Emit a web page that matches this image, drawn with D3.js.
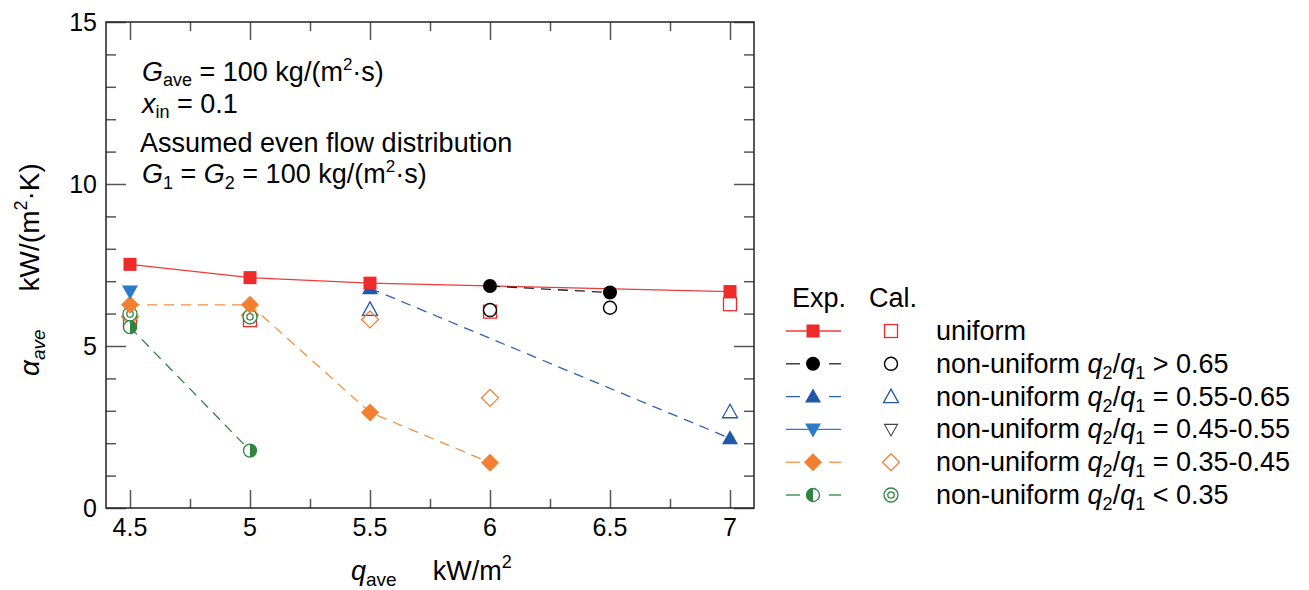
<!DOCTYPE html>
<html><head><meta charset="utf-8">
<script src="https://cdn.jsdelivr.net/npm/d3@7"></script>
<style>
body{margin:0;background:#fff;}
svg text{font-family:"Liberation Sans",Arial,sans-serif;fill:#000;}
</style></head>
<body><svg id="c" width="1309" height="590"></svg>
<script>
// ---- data ----
const qTicks = [4.5, 5, 5.5, 6, 6.5, 7];
const qMinor = [4.75, 5.25, 5.75, 6.25, 6.75];
const aTicks = [0, 5, 10, 15];
const aMinor = [1, 2, 3, 4, 6, 7, 8, 9, 11, 12, 13, 14];

const uniformExp = [[4.5, 7.52], [5, 7.11], [5.5, 6.94], [7, 6.68]];
const uniformCal = [[4.5, 5.75], [5, 5.8], [6, 6.06], [7, 6.29]];
const nu65Exp = [[6, 6.85], [6.5, 6.65]];
const nu65Cal = [[6, 6.11], [6.5, 6.18]];
const nu55Exp = [[5.5, 6.78], [7, 2.15]];
const nu55Cal = [[5.5, 6.13], [7, 2.97]];
const nu45Exp = [[4.5, 6.68]];
const nu45Cal = [];
const nu35Exp = [[4.5, 6.27], [5, 6.27], [5.5, 2.95], [6, 1.4]];
const nu35Cal = [[4.5, 5.9], [5, 5.95], [5.5, 5.82], [6, 3.4]];
const lt35Exp = [[4.5, 5.58], [5, 1.77]];
const lt35Cal = [[4.5, 5.99], [5, 5.9]];

const labels = ["uniform", "> 0.65", "= 0.55-0.65", "= 0.45-0.55", "= 0.35-0.45", "< 0.35"];

const series = [
  {exp: uniformExp, cal: uniformCal, color: "#ee2a2a", lineColor: "#ef3a3a", dash: null, em: "square", cm: "osquare"},
  {exp: nu65Exp, cal: nu65Cal, color: "#000", lineColor: "#222", dash: "10,7", em: "circle", cm: "ocircle"},
  {exp: nu55Exp, cal: nu55Cal, color: "#2357a8", lineColor: "#2f62b0", dash: "10,7", em: "tri", cm: "otri"},
  {exp: nu45Exp, cal: nu45Cal, color: "#2b7bcb", lineColor: "#2b7bcb", dash: null, em: "tridown", cm: "otridown", calColor: "#444"},
  {exp: nu35Exp, cal: nu35Cal, color: "#f28030", lineColor: "#f59040", dash: "10,7", em: "diamond", cm: "odiamond"},
  {exp: lt35Exp, cal: lt35Cal, color: "#2e8540", lineColor: "#2e8540", dash: "10,7", em: "half", cm: "dcircle"}
];

// ---- layout ----
const svg = d3.select("#c");
const L = 106, R = 754, T = 22, B = 508;
const x = d3.scaleLinear().domain([4.4, 7.1]).range([L, R]);
const y = d3.scaleLinear().domain([0, 15]).range([B, T]);

const axG = svg.append("g");
function addAxis(gen, tr, vals, size) {
  const g = axG.append("g").attr("transform", tr)
    .call(gen.tickValues(vals).tickSize(size).tickFormat(""));
  g.select(".domain").remove();
  g.selectAll(".tick line").attr("stroke", "#555").attr("stroke-width", 1.5);
  return g;
}
addAxis(d3.axisBottom(x), `translate(0,${B})`, qTicks, -18);
addAxis(d3.axisBottom(x), `translate(0,${B})`, qMinor, -9);
addAxis(d3.axisTop(x), `translate(0,${T})`, qTicks, -18);
addAxis(d3.axisTop(x), `translate(0,${T})`, qMinor, -9);
addAxis(d3.axisLeft(y), `translate(${L},0)`, aTicks, -20);
addAxis(d3.axisLeft(y), `translate(${L},0)`, aMinor, -10);
addAxis(d3.axisRight(y), `translate(${R},0)`, aTicks, -20);
addAxis(d3.axisRight(y), `translate(${R},0)`, aMinor, -10);

svg.append("rect").attr("x", L).attr("y", T).attr("width", R - L).attr("height", B - T)
  .attr("fill", "none").attr("stroke", "#222").attr("stroke-width", 1.5);

// tick labels
svg.append("g").selectAll("text").data(qTicks).join("text")
  .attr("x", d => x(d)).attr("y", 536).attr("text-anchor", "middle")
  .attr("font-size", 25).text(d => d);
svg.append("g").selectAll("text").data(aTicks).join("text")
  .attr("x", 97).attr("y", d => y(d) + 9).attr("text-anchor", "end")
  .attr("font-size", 25).text(d => d);

// ---- markers ----
function marker(g, type, cx, cy, color) {
  const s = g.append("g").attr("transform", `translate(${cx},${cy})`);
  switch (type) {
    case "square": s.append("rect").attr("x", -6.5).attr("y", -6.5).attr("width", 13).attr("height", 13).attr("fill", color); break;
    case "osquare": s.append("rect").attr("x", -6.5).attr("y", -6.5).attr("width", 13).attr("height", 13).attr("fill", "none").attr("stroke", color).attr("stroke-width", 1.3); break;
    case "circle": s.append("circle").attr("r", 7).attr("fill", color); break;
    case "ocircle": s.append("circle").attr("r", 6.5).attr("fill", "#fff").attr("stroke", color).attr("stroke-width", 1.4); break;
    case "tri": s.append("path").attr("d", "M0,-8L8,6L-8,6Z").attr("fill", color); break;
    case "otri": s.append("path").attr("d", "M0,-7.5L7.5,6L-7.5,6Z").attr("fill", "none").attr("stroke", color).attr("stroke-width", 1.3); break;
    case "tridown": s.append("path").attr("d", "M0,8L8,-6L-8,-6Z").attr("fill", color); break;
    case "otridown": s.append("path").attr("d", "M0,6.5L6.5,-5L-6.5,-5Z").attr("fill", "none").attr("stroke", color).attr("stroke-width", 1.1); break;
    case "diamond": s.append("path").attr("d", "M0,-9L9,0L0,9L-9,0Z").attr("fill", color); break;
    case "odiamond": s.append("path").attr("d", "M0,-8.5L8.5,0L0,8.5L-8.5,0Z").attr("fill", "none").attr("stroke", color).attr("stroke-width", 1.3); break;
    case "half":
    case "halfL": {
      s.append("circle").attr("r", 6.5).attr("fill", "#fff").attr("stroke", color).attr("stroke-width", 1.3);
      const d = type === "half" ? "M0,-6.5A6.5,6.5 0 0 1 0,6.5Z" : "M0,-6.5A6.5,6.5 0 0 0 0,6.5Z";
      s.append("path").attr("d", d).attr("fill", color);
      break;
    }
    case "dcircle":
      s.append("circle").attr("r", 7).attr("fill", "#fff").attr("stroke", color).attr("stroke-width", 1.3);
      s.append("circle").attr("r", 3.2).attr("fill", "none").attr("stroke", color).attr("stroke-width", 1.3);
      break;
  }
}

// ---- lines ----
const line = d3.line().x(d => x(d[0])).y(d => y(d[1]));
const plot = svg.append("g");
series.forEach(s => {
  if (s.exp.length > 1) {
    plot.append("path").datum(s.exp).attr("d", line).attr("fill", "none")
      .attr("stroke", s.lineColor).attr("stroke-width", 1.3)
      .attr("stroke-dasharray", s.dash);
  }
});
series.forEach(s => s.cal.forEach(d => marker(plot, s.cm, x(d[0]), y(d[1]), s.calColor || s.color)));
[...series].reverse().forEach(s => s.exp.forEach(d => marker(plot, s.em, x(d[0]), y(d[1]), s.color)));

// ---- annotation ----
const ann = svg.append("g").attr("font-size", 27);
let t = ann.append("text").attr("x", 142).attr("y", 81);
t.append("tspan").attr("font-style", "italic").text("G");
t.append("tspan").attr("font-size", 18).attr("dy", 5).text("ave");
t.append("tspan").attr("dy", -5).text(" = 100 kg/(m");
t.append("tspan").attr("font-size", 17).attr("dy", -11).text("2");
t.append("tspan").attr("dy", 11).text("·s)");
t = ann.append("text").attr("x", 142).attr("y", 113);
t.append("tspan").attr("font-style", "italic").text("x");
t.append("tspan").attr("font-size", 18).attr("dy", 5).text("in");
t.append("tspan").attr("dy", -5).text(" = 0.1");
ann.append("text").attr("x", 140).attr("y", 152).text("Assumed even flow distribution");
t = ann.append("text").attr("x", 142).attr("y", 183);
t.append("tspan").attr("font-style", "italic").text("G");
t.append("tspan").attr("font-size", 18).attr("dy", 6).text("1");
t.append("tspan").attr("dy", -6).text(" = ");
t.append("tspan").attr("font-style", "italic").text("G");
t.append("tspan").attr("font-size", 18).attr("dy", 6).text("2");
t.append("tspan").attr("dy", -6).text(" = 100 kg/(m");
t.append("tspan").attr("font-size", 17).attr("dy", -11).text("2");
t.append("tspan").attr("dy", 11).text("·s)");

// ---- axis titles ----
t = svg.append("text").attr("x", 351).attr("y", 580).attr("font-size", 27);
t.append("tspan").attr("font-style", "italic").text("q");
t.append("tspan").attr("font-size", 19).attr("dy", 6).text("ave");
t.append("tspan").attr("dy", -6).attr("dx", 36).text("kW/m");
t.append("tspan").attr("font-size", 18).attr("dy", -12).text("2");

t = svg.append("text").attr("transform", "translate(39,376) rotate(-90)").attr("font-size", 28);
t.append("tspan").attr("font-style", "italic").text("α");
t.append("tspan").attr("font-size", 19).attr("font-style", "italic").attr("dy", 6).text("ave");
t.append("tspan").attr("dy", -6).attr("dx", 38).text("kW/(m");
t.append("tspan").attr("font-size", 18).attr("dy", -12).text("2");
t.append("tspan").attr("dy", 12).text("·K)");

// ---- legend ----
const lg = svg.append("g").attr("font-size", 27);
lg.append("text").attr("x", 792).attr("y", 307).text("Exp.");
lg.append("text").attr("x", 869).attr("y", 307).text("Cal.");
const rowY = i => 331 + i * 32.8;
series.forEach((s, i) => {
  const cy = rowY(i);
  if (s.dash) {
    lg.append("line").attr("x1", 786).attr("x2", 800).attr("y1", cy).attr("y2", cy).attr("stroke", s.lineColor).attr("stroke-width", 1.3);
    lg.append("line").attr("x1", 829).attr("x2", 841).attr("y1", cy).attr("y2", cy).attr("stroke", s.lineColor).attr("stroke-width", 1.3);
  } else {
    lg.append("line").attr("x1", 786).attr("x2", 841).attr("y1", cy).attr("y2", cy).attr("stroke", s.lineColor).attr("stroke-width", 1.3);
  }
  marker(lg, s.em === "half" ? "halfL" : s.em, 813, cy, s.color);
  marker(lg, s.cm, 891, cy, s.calColor || s.color);
  const tx = lg.append("text").attr("x", 936).attr("y", cy + 9);
  if (i === 0) { tx.text(labels[i]); return; }
  tx.append("tspan").text("non-uniform ");
  tx.append("tspan").attr("font-style", "italic").text("q");
  tx.append("tspan").attr("font-size", 18).attr("dy", 6).text("2");
  tx.append("tspan").attr("dy", -6).text("/");
  tx.append("tspan").attr("font-style", "italic").text("q");
  tx.append("tspan").attr("font-size", 18).attr("dy", 6).text("1");
  tx.append("tspan").attr("dy", -6).text(" " + labels[i]);
});
</script></body></html>
